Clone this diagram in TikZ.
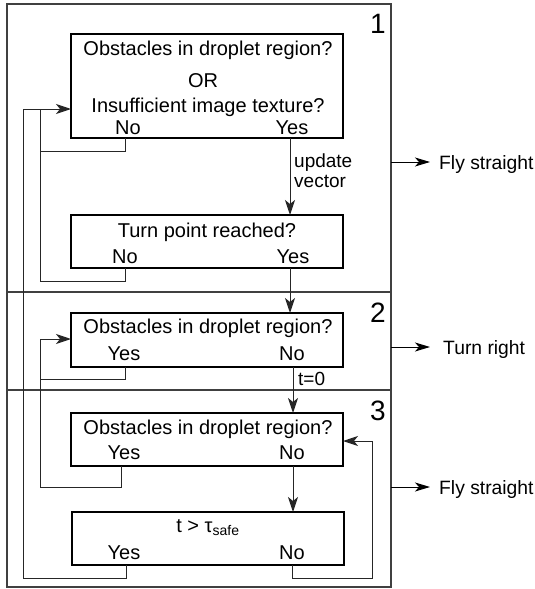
\documentclass[tikz,border=0pt]{standalone}
\usepackage{fontspec}
\setmainfont{Liberation Sans}
\usetikzlibrary{arrows.meta}
\begin{document}
\begin{tikzpicture}[x=1pt,y=-1pt,
  frame/.style={draw=black!75, line width=1.2pt},
  box/.style={draw, line width=2pt, inner sep=0pt, outer sep=0pt, minimum width=272pt},
  txt/.style={anchor=base, inner sep=0pt, font=\fontsize{20}{24}\selectfont},
  side/.style={anchor=base west, inner sep=0pt, font=\fontsize{19.3}{24}\selectfont},
  lbl/.style={anchor=base west, inner sep=0pt, font=\fontsize{19}{22}\selectfont},
  num/.style={anchor=base, inner sep=0pt, font=\fontsize{28}{30}\selectfont},
  line/.style={draw=black!85, line width=1pt},
  arr/.style={draw=black!85, line width=1pt, -{Stealth[length=15pt,width=10pt,inset=4pt]}},
  sarr/.style={draw=black, line width=1pt, -{Stealth[length=15pt,width=9pt,inset=4pt]}}]
\useasboundingbox (0,0) rectangle (535,589);

% frames
\draw[frame] (7,4) rectangle (391,587);
\draw[frame] (7,292) -- (391,292);
\draw[frame] (7,390) -- (391,390);

% section numbers
\node[num] (n1) at (378,33) {1};
\node[num] (n2) at (378,322) {2};
\node[num] (n3) at (378,420) {3};

% boxes
\node[box, minimum height=104pt] (b1) at (207,86) {};
\node[box, minimum height=53pt] (b2) at (207,241.5) {};
\node[box, minimum height=54pt] (b3) at (207,340) {};
\node[box, minimum height=53pt] (b4) at (207,439.5) {};
\node[box, minimum height=53pt] (b5) at (208,538.5) {};

% texts
\node[txt] (t1a) at (208,55) {Obstacles in droplet region?};
\node[txt] (t1b) at (203,87) {OR};
\node[txt] (t1c) at (208,112) {Insufficient image texture?};
\node[txt] (t1no) at (128,134) {No};
\node[txt] (t1yes) at (292,134) {Yes};

\node[txt] (t2a) at (207,237) {Turn point reached?};
\node[txt] (t2no) at (125,263) {No};
\node[txt] (t2yes) at (293,263) {Yes};

\node[txt] (t3a) at (208,333) {Obstacles in droplet region?};
\node[txt] (t3yes) at (124,360) {Yes};
\node[txt] (t3no) at (292,360) {No};

\node[txt] (t4a) at (208,434) {Obstacles in droplet region?};
\node[txt] (t4yes) at (124,459) {Yes};
\node[txt] (t4no) at (292,459) {No};

\node[txt] (t5a) at (208,532) {t > τ\textsubscript{safe}};
\node[txt] (t5yes) at (124,559) {Yes};
\node[txt] (t5no) at (292,559) {No};

% edge labels
\node[lbl] (u1) at (294,167) {update};
\node[lbl] (u2) at (294,187) {vector};
\node[lbl] (t0) at (298,385) {t=0};

% side outputs
\coordinate (s1) at (391,162);
\coordinate (s2) at (391,347);
\coordinate (s3) at (391,487);
\node[side] (o1) at (439,169) {Fly straight};
\node[side] (o2) at (443,354) {Turn right};
\node[side] (o3) at (439,494) {Fly straight};
\draw[sarr] (s1) -- ([xshift=-9pt]o1.west |- s1);
\draw[sarr] (s2) -- ([xshift=-13pt]o2.west |- s2);
\draw[sarr] (s3) -- ([xshift=-9pt]o3.west |- s3);

% ports
\coordinate (p1no) at (125,138);
\coordinate (p1yes) at (290,138);
\coordinate (p2no) at (125,268);
\coordinate (p2yes) at (290,268);
\coordinate (p3yes) at (125,367);
\coordinate (p3no) at (293,367);
\coordinate (p4yes) at (121,466);
\coordinate (p4no) at (293,466);
\coordinate (p5yes) at (126,565);
\coordinate (p5no) at (292,565);

% corners
\coordinate (k1) at (40,151);
\coordinate (k2) at (40,281);
\coordinate (j1b) at (40,109);
\coordinate (j1a) at (23,109);
\coordinate (k5) at (23,578);
\coordinate (k3) at (40,379);
\coordinate (k4) at (40,487);
\coordinate (j3) at (40,339);
\coordinate (k6) at (372,578);
\coordinate (j4) at (372,441);

% loops
\draw[line] (p1no) |- (k1) -- (j1b);
\draw[line] (p2no) |- (k2) -- (j1b);
\draw[arr] (p5yes) |- (k5) -- (j1a) -- (b1.west |- j1a);
\draw[line] (p3yes) |- (k3);
\draw[arr] (p4yes) |- (k4) -- (j3) -- (b3.west |- j3);
\draw[arr] (p5no) |- (k6) -- (j4) -- (b4.east |- j4);

% main flow
\draw[arr] (p1yes) -- (p1yes |- b2.north);
\draw[arr] (p2yes) -- (p2yes |- b3.north);
\draw[arr] (p3no) -- (p3no |- b4.north);
\draw[arr] (p4no) -- (p4no |- b5.north);
\end{tikzpicture}
\end{document}
